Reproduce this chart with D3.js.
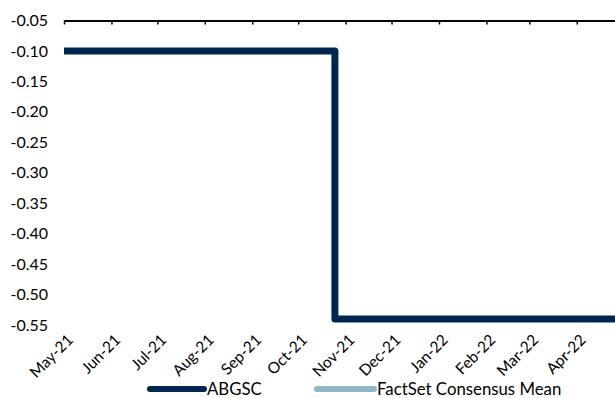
<!DOCTYPE html>
<html>
<head>
<meta charset="utf-8">
<script src="https://cdn.jsdelivr.net/npm/d3@7"></script>
<style>
  html, body { margin: 0; padding: 0; background: #fff; }
  svg text { font-family: Lato, "Open Sans", sans-serif; fill: #000; }
</style>
</head>
<body>
<svg id="chart" width="615" height="398"></svg>
<script>
// Step series: estimate revisions (dates at which the value changes)
const abgscDates = ["2021-05-01", "2021-10-25", "2022-04-26"];
const abgscValues = [-0.10, -0.54, -0.54];

// Axis settings
const monthTicks = ["2021-05-01", "2021-06-01", "2021-07-01", "2021-08-01", "2021-09-01", "2021-10-01",
                    "2021-11-01", "2021-12-01", "2022-01-01", "2022-02-01", "2022-03-01", "2022-04-01"];
const yTicks = [-0.05, -0.10, -0.15, -0.20, -0.25, -0.30, -0.35, -0.40, -0.45, -0.50, -0.55];
const seriesNames = ["ABGSC", "FactSet Consensus Mean"];
const seriesColors = ["#00264f", "#8fb6c7"];

const parse = d3.timeParse("%Y-%m-%d");
const fmt = d3.timeFormat("%b-%y");

const svg = d3.select("#chart");
const x = d3.scaleTime()
  .domain([parse("2021-05-01"), parse("2022-04-26")])
  .range([64, 615]);
const y = d3.scaleLinear().domain([-0.05, -0.55]).range([20.5, 325]);

// Y tick labels (no axis line)
svg.append("g").selectAll("text").data(yTicks).join("text")
  .attr("x", 48).attr("y", d => y(d)).attr("dy", "0.35em")
  .attr("text-anchor", "end").style("font-size", "16px")
  .text(d => d.toFixed(2));

// Category axis sits at the top of the plot with ticks pointing down
const xAxis = d3.axisBottom(x)
  .tickValues(monthTicks.map(parse))
  .tickSize(4).tickSizeOuter(0).tickFormat("");
const gx = svg.append("g").attr("transform", `translate(0,${y(-0.05)})`).call(xAxis);
gx.select(".domain").attr("stroke", "#000").attr("stroke-width", 2);
gx.selectAll(".tick line").attr("stroke", "#000").attr("stroke-width", 1.5);

// Month labels along the bottom, rotated
svg.append("g").selectAll("text").data(monthTicks.map(parse)).join("text")
  .attr("text-anchor", "end")
  .attr("transform", d => `translate(${x(d) + 10},${341}) rotate(-45)`)
  .style("font-size", "15.5px")
  .text(d => fmt(d));

// ABGSC step line
const pts = abgscDates.map((d, i) => ({ date: parse(d), value: abgscValues[i] }));
const line = d3.line().x(d => x(d.date)).y(d => y(d.value)).curve(d3.curveStepAfter);
svg.append("path").datum(pts)
  .attr("d", line)
  .attr("fill", "none")
  .attr("stroke", seriesColors[0])
  .attr("stroke-width", 7)
  .attr("stroke-linejoin", "round");

// Legend
const legendItems = [
  { name: seriesNames[0], color: seriesColors[0], x1: 150, x2: 204, tx: 207 },
  { name: seriesNames[1], color: seriesColors[1], x1: 317, x2: 374, tx: 377 }
];
const lg = svg.append("g");
legendItems.forEach(it => {
  lg.append("line")
    .attr("x1", it.x1).attr("x2", it.x2).attr("y1", 389).attr("y2", 389)
    .attr("stroke", it.color).attr("stroke-width", 6).attr("stroke-linecap", "round");
  lg.append("text").attr("x", it.tx).attr("y", 389).attr("dy", "0.35em")
    .style("font-size", "16.8px").text(it.name);
});
</script>
</body>
</html>
